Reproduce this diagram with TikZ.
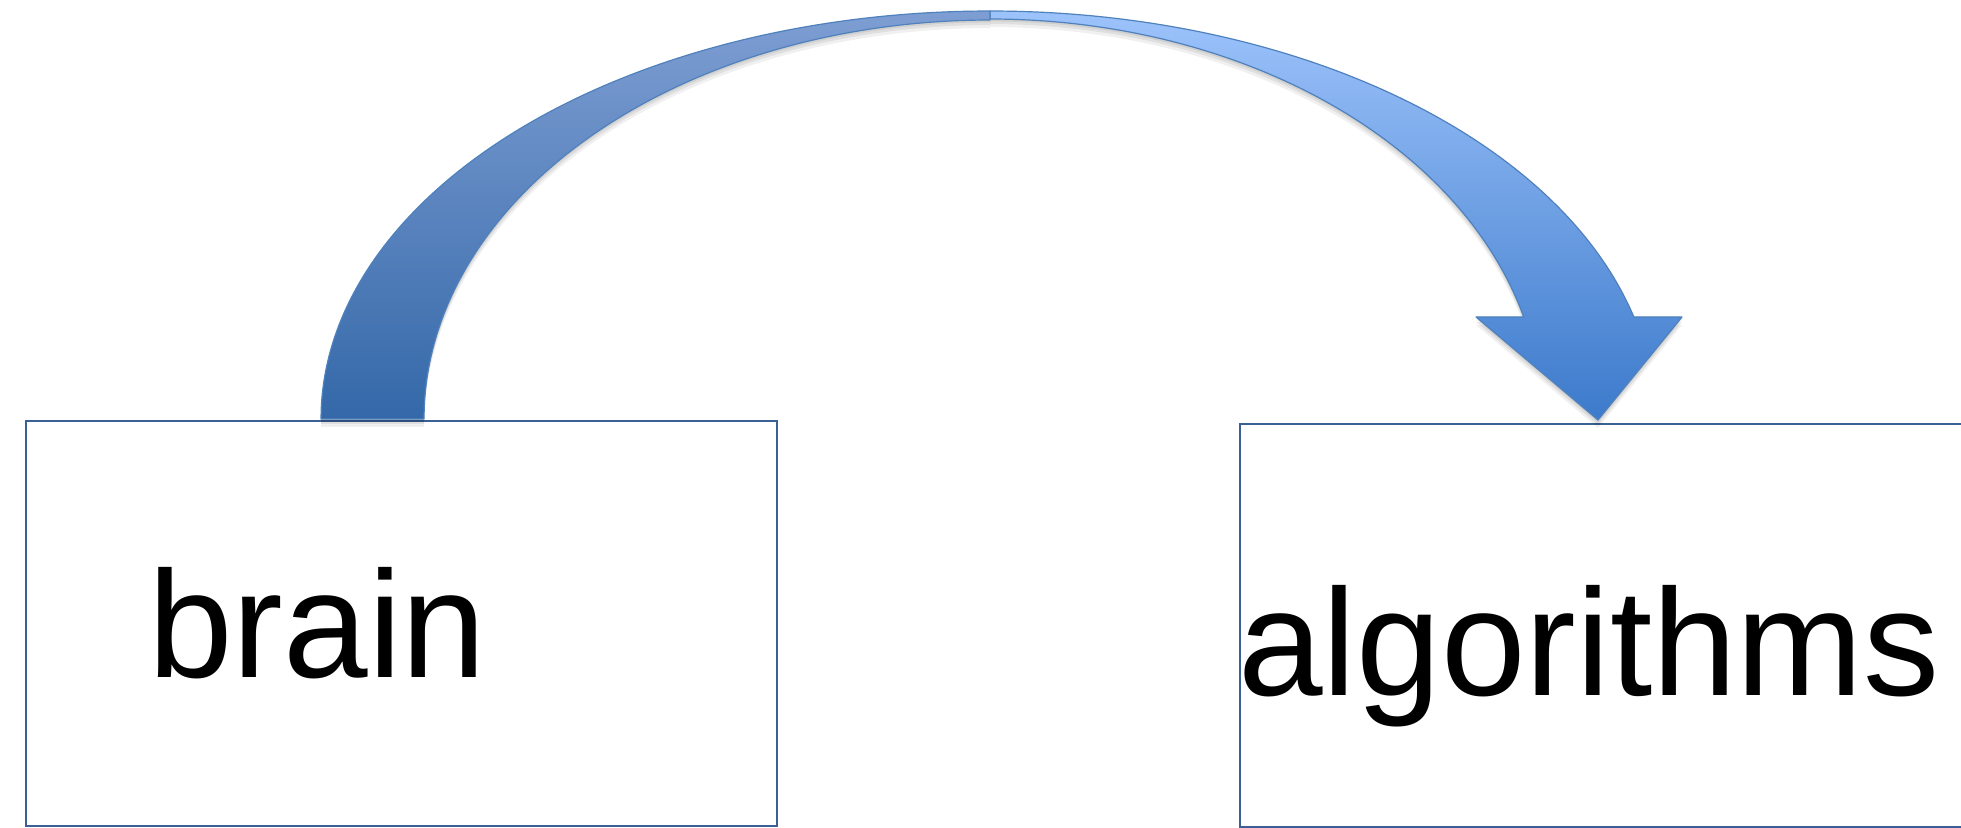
\documentclass[tikz,border=0pt]{standalone}
\usepackage{fontspec}
\setmainfont{Liberation Sans}
\usetikzlibrary{fit}
\definecolor{boxline}{HTML}{3A6096}
\definecolor{arrline}{HTML}{4F81BD}
\definecolor{ltop}{HTML}{7E9ED3}
\definecolor{lbot}{HTML}{3468A8}
\definecolor{rtop}{HTML}{9DC3FB}
\definecolor{rbot}{HTML}{3C7ACB}
\tikzset{
  box/.style={draw=boxline, line width=1pt, inner sep=0pt, fill=white},
  word/.style={inner sep=0pt, font=\fontsize{76pt}{90pt}\selectfont, text=black},
  band/.style={draw=arrline, line width=0.6pt, line join=round,
    preaction={fill=black, opacity=0.07, transform canvas={yshift=-1.2pt}},
    preaction={fill=black, opacity=0.07, transform canvas={yshift=-2.5pt}},
    preaction={fill=black, opacity=0.06, transform canvas={yshift=-4pt}}},
}
\begin{document}
\begin{tikzpicture}[x=0.5pt,y=-0.5pt]
\useasboundingbox (0,0) rectangle (1961,828);
\clip (0,0) rectangle (1961,828);
\fill[white] (0,0) rectangle (1961,828);
% boxes
\coordinate (b1) at (26,421);
\coordinate (b2) at (777,826);
\coordinate (a1) at (1240,424);
\coordinate (a2) at (2010,827);
\node[box, fit=(b1)(b2)] (brainbox) {};
\node[box, fit=(a1)(a2)] (algobox) {};
% curved arrow: right part (back, lighter) with head
\coordinate (tip) at (1598,420);
\coordinate (hl) at (1476,317);
\coordinate (hr) at (1682,317);
\coordinate (base1) at (321,419);
\path[band, top color=rtop, bottom color=rbot]
  (1524,317) -- (hl) -- (tip) -- (hr) -- (1634,317)
  -- plot[domain=14.48:90, samples=60, smooth] ({990+665*cos(\x)},{419-408*sin(\x)})
  -- plot[domain=90:14.77, samples=60, smooth] ({990+552*cos(\x)},{419-400*sin(\x)})
  -- cycle;
% left part (front, darker)
\path[band, top color=ltop, bottom color=lbot]
  (base1)
  -- plot[domain=0:90, samples=60, smooth] ({990-669*cos(\x)},{419-408*sin(\x)})
  -- plot[domain=90:0, samples=60, smooth] ({990-566*cos(\x)},{419-399*sin(\x)})
  -- cycle;
% labels
\node[word, anchor=base west] (brain) at (148,677) {brain};
\node[word, anchor=base west] (algorithms) at (1238,695) {algorithms};
\end{tikzpicture}
\end{document}
